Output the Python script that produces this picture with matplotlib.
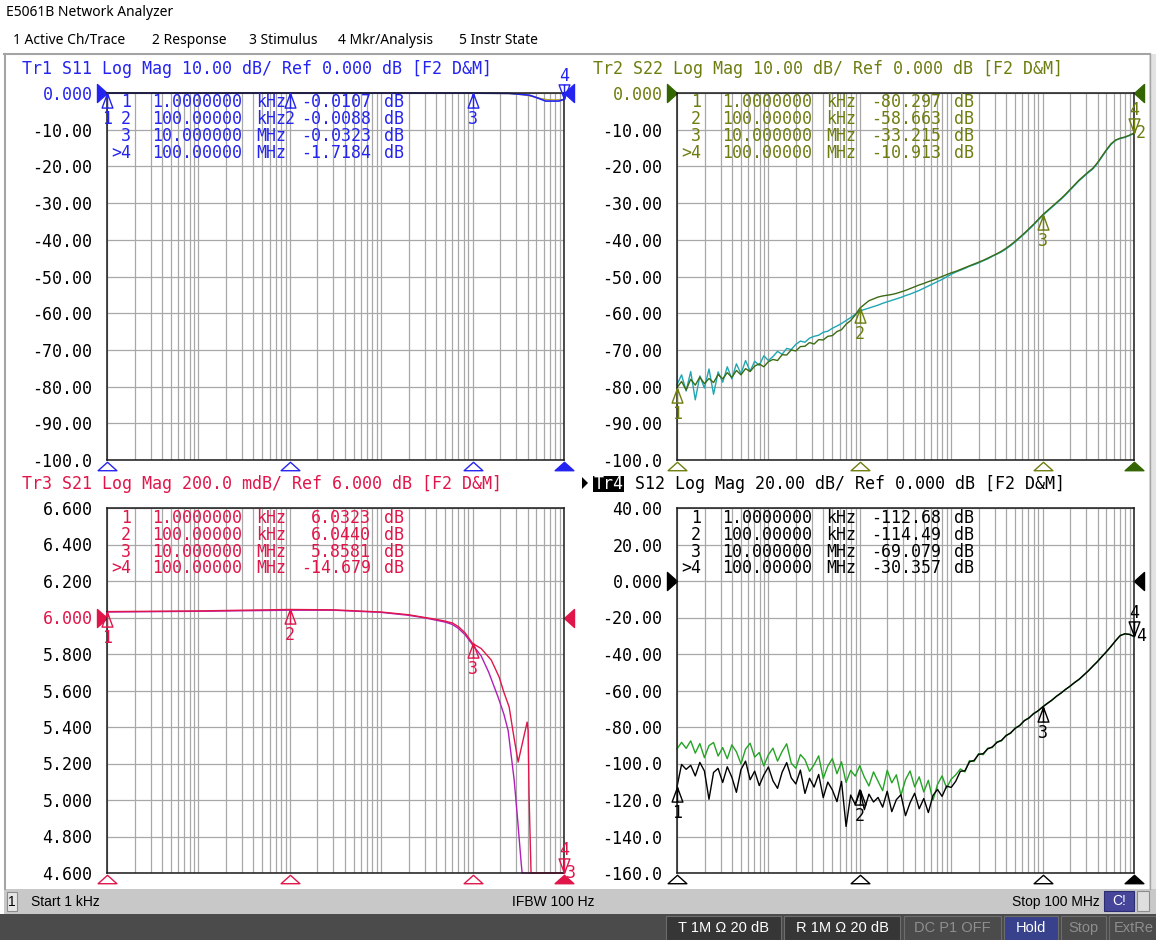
import numpy as np
import matplotlib.pyplot as plt
from matplotlib.path import Path
from matplotlib.patches import Rectangle, Polygon
from matplotlib.ticker import LogLocator, NullFormatter

# ---------------- stimulus / markers ----------------
sweep = np.geomspace(1e3, 1e8, 101)          # 101-point log sweep, 1 kHz .. 100 MHz
mkr_freq = [1e3, 1e5, 1e7, 1e8]
mkr_idx = ['1', '2', '3', '>4']
mkr_freq_txt = ['1.0000000', '100.00000', '10.000000', '100.00000']
mkr_unit = ['kHz', 'kHz', 'MHz', 'MHz']

# ---------------- Tr1  S11 ----------------
s11_freq = [1e3, 1e4, 1e5, 1e6, 1e7, 2.5e7, 3.3e7, 4.2e7, 5.2e7, 6.3e7, 8.8e7, 1e8]
s11_data = [-0.0107, -0.012, -0.0088, -0.015, -0.0323, -0.1, -0.35, -0.6, -1.4, -2.2, -2.2, -1.7184]
s11_mem_freq = [1e3, 1e7, 2.5e7, 3.5e7, 4.5e7, 5.5e7, 6.5e7, 8e7, 1e8]
s11_mem = [-0.01, -0.03, -0.15, -0.45, -0.9, -1.5, -1.8, -1.9, -1.8]
s11_mkr = [-0.0107, -0.0088, -0.0323, -1.7184]
s11_ticks = [0, -10, -20, -30, -40, -50, -60, -70, -80, -90, -100]
s11_labels = ['0.000', '-10.00', '-20.00', '-30.00', '-40.00', '-50.00',
              '-60.00', '-70.00', '-80.00', '-90.00', '-100.0']

# ---------------- Tr2  S22 (on sweep) ----------------
s22_data = [-80.297, -78.6, -80.9, -78.0, -79.6, -77.4, -79.2, -77.8, -78.9, -76.7, -77.9,
            -76.2, -77.5, -75.6, -76.8, -75.1, -75.9, -74.4, -73.8, -74.6, -73.2,
            -72.6, -72.9, -71.3, -71.4, -70.0, -70.3, -69.1, -69.0, -68.0, -68.4,
            -67.2, -67.3, -66.3, -66.1, -65.0, -64.5, -63.0, -62.0, -60.5, -58.663,
            -57.6, -56.6, -56.1, -55.6, -55.3, -55.1, -54.9, -54.6, -54.2, -53.8,
            -53.3, -52.8, -52.3, -51.9, -51.4, -51.0, -50.5, -50.0, -49.5, -49.0,
            -48.6, -48.1, -47.6, -47.1, -46.6, -46.1, -45.6, -45.0, -44.4, -43.8,
            -43.1, -42.3, -41.4, -40.4, -39.3, -38.2, -37.0, -35.8, -34.5, -33.215,
            -32.1, -31.0, -29.9, -28.8, -27.6, -26.3, -25.0, -23.7, -22.6, -21.5,
            -20.5, -19.0, -17.2, -15.4, -13.8, -12.8, -12.3, -12.0, -11.5, -10.913]
s22_mem = [-79.5, -76.8, -81.2, -75.9, -83.6, -77.1, -80.4, -75.2, -82.1, -76.0, -78.8,
           -74.6, -77.9, -73.8, -76.5, -72.9, -75.8, -73.1, -74.2, -71.6, -72.9,
           -71.8, -70.4, -71.2, -69.6, -69.9, -68.5, -67.6, -67.9, -66.8, -66.3,
           -66.0, -65.2, -64.9, -64.1, -63.5, -62.8, -62.0, -61.2, -60.3, -59.4,
           -59.0, -58.6, -58.2, -57.8, -57.3, -56.9, -56.5, -56.1, -55.7, -55.2,
           -54.8, -54.3, -53.8, -53.2, -52.6, -52.0, -51.4, -50.8, -50.1, -49.4,
           -48.8, -48.3, -47.8, -47.2, -46.8, -46.3, -45.7, -45.2, -44.5, -43.9,
           -43.3, -42.5, -41.6, -40.6, -39.5, -38.4, -37.2, -36.0, -34.7, -33.4,
           -32.3, -31.2, -30.1, -29.0, -27.8, -26.5, -25.2, -23.9, -22.8, -21.7,
           -20.7, -19.2, -17.4, -15.6, -14.0, -12.9, -12.4, -12.1, -11.6, -11.0]
s22_mkr = [-80.297, -58.663, -33.215, -10.913]

# ---------------- Tr3  S21 ----------------
s21_freq = [1e3, 1e4, 1e5, 3e5, 1e6, 2e6, 3e6, 4e6, 5e6, 6e6, 7e6, 8.3e6, 1e7, 1.24e7,
            1.6e7, 1.95e7, 2.2e7, 2.51e7, 2.8e7, 3.15e7, 3.5e7, 3.95e7, 4.05e7, 4.15e7,
            4.36e7, 5e7, 7e7, 1e8]
s21_data = [6.0323, 6.036, 6.0440, 6.042, 6.030, 6.015, 6.000, 5.99, 5.98, 5.97, 5.95,
            5.915, 5.8581, 5.83, 5.767, 5.674, 5.59, 5.51, 5.36, 5.208, 5.31, 5.427,
            5.38, 5.02, 4.2, -3.0, -10.0, -14.679]
s21_mem_freq = [1e3, 1e4, 1e5, 3e5, 1e6, 2e6, 3e6, 4e6, 5e6, 6e6, 7e6, 8.3e6, 1e7,
                1.24e7, 1.5e7, 1.9e7, 2.2e7, 2.45e7, 2.85e7, 3.1e7, 3.4e7, 3.48e7,
                4.6e7, 1e8]
s21_mem = [6.030, 6.034, 6.040, 6.040, 6.028, 6.012, 5.998, 5.985, 5.975, 5.962, 5.94,
           5.905, 5.85, 5.79, 5.70, 5.564, 5.47, 5.38, 5.11, 4.90, 4.655, 4.4, -6.0, -17.0]
s21_mkr = [6.0323, 6.0440, 5.8581, -14.679]
s21_ticks = [6.6, 6.4, 6.2, 6.0, 5.8, 5.6, 5.4, 5.2, 5.0, 4.8, 4.6]
s21_labels = ['6.600', '6.400', '6.200', '6.000', '5.800', '5.600',
              '5.400', '5.200', '5.000', '4.800', '4.600']

# ---------------- Tr4  S12 (on sweep) ----------------
s12_data = [-112.68, -100.5, -103.2, -101.0, -106.8, -99.4, -104.1, -119.6, -104.9, -102.7, -110.4,
            -101.8, -107.5, -115.8, -103.3, -98.7, -108.9, -104.2, -112.1, -106.3, -101.9,
            -109.5, -113.6, -104.8, -99.5, -107.9, -111.2, -103.6, -116.4, -108.1, -112.9,
            -106.0, -118.7, -110.2, -114.5, -120.9, -109.8, -134.5, -117.3, -122.4, -114.49,
            -125.3, -116.8, -121.1, -118.6, -123.9, -115.2, -126.4, -119.8, -117.1, -128.6,
            -121.5, -116.3, -124.8, -119.2, -126.9, -117.6, -114.2, -118.0, -112.4, -113.1,
            -109.7, -104.3, -104.0, -99.1, -98.3, -95.0, -94.6, -92.0, -90.9, -88.5,
            -87.3, -84.8, -83.2, -80.8, -79.1, -76.6, -75.0, -72.8, -71.1, -69.079,
            -67.2, -65.3, -63.3, -61.4, -59.5, -57.6, -55.7, -53.8, -51.6, -49.2,
            -46.7, -44.1, -41.4, -38.6, -35.8, -32.6, -29.9, -28.9, -29.3, -30.357]
s12_mem = [-92.0, -88.4, -91.7, -87.6, -94.3, -89.1, -96.8, -90.2, -88.5, -95.9, -91.3,
           -97.4, -89.8, -93.6, -100.2, -92.1, -88.9, -96.5, -94.0, -101.3, -95.2,
           -91.6, -98.7, -93.4, -89.2, -99.8, -102.6, -95.1, -97.9, -104.3, -100.7,
           -95.8, -108.2, -101.4, -97.3, -105.6, -99.1, -110.4, -103.8, -106.9, -101.2,
           -107.5, -112.3, -104.6, -109.8, -114.9, -103.7, -110.6, -106.2, -117.4, -108.9,
           -104.1, -112.8, -107.3, -115.6, -109.2, -120.3, -111.5, -106.8, -113.4, -108.6,
           -106.2, -103.0, -104.6, -98.4, -98.9, -94.6, -95.2, -91.6, -91.3, -88.1,
           -87.6, -84.5, -83.5, -80.5, -79.3, -76.4, -75.2, -72.6, -71.3, -68.9,
           -67.0, -65.5, -63.1, -61.6, -59.3, -57.8, -55.5, -54.0, -51.4, -49.4,
           -46.5, -44.3, -41.2, -38.8, -35.6, -32.8, -29.7, -29.1, -29.1, -30.5]
s12_mkr = [-112.68, -114.49, -69.079, -30.357]
s12_ticks = [40, 20, 0, -20, -40, -60, -80, -100, -120, -140, -160]
s12_labels = ['40.00', '20.00', '0.000', '-20.00', '-40.00', '-60.00',
              '-80.00', '-100.0', '-120.0', '-140.0', '-160.0']

# ---------------- styling ----------------
MONO = 'DejaVu Sans Mono'
UI = 'Noto Sans'
FS = 12
C1, C1M = '#2424f0', '#b3a024'
C2, C2D, C2M, C2A = '#6f7d10', '#3d6b14', '#1fa6b2', '#336600'
C3, C3M = '#e0164a', '#b01fb8'
C4, C4M = '#000000', '#25a325'
GRID = '#a8a8a8'

W, H = 1156, 940
fig = plt.figure(figsize=(W / 100, H / 100), dpi=100)
fig.patch.set_facecolor('white')

# marker shapes (tip of each shape sits on the data point)
MK_UP = Path([(0, 0), (-0.37, -1), (0.37, -1), (0, 0), (0, 0), (0, -1)],
             [Path.MOVETO, Path.LINETO, Path.LINETO, Path.CLOSEPOLY, Path.MOVETO, Path.LINETO])
MK_DN = Path([(0, 0), (-0.37, 1), (0.37, 1), (0, 0), (0, 0), (0, 1)],
             [Path.MOVETO, Path.LINETO, Path.LINETO, Path.CLOSEPOLY, Path.MOVETO, Path.LINETO])
TRI = Path([(0, 0.45), (-1, -0.45), (1, -0.45), (0, 0.45)],
           [Path.MOVETO, Path.LINETO, Path.LINETO, Path.CLOSEPOLY])
ARR_R = Path([(0, 0), (-1, 0.9), (-1, -0.9), (0, 0)],
             [Path.MOVETO, Path.LINETO, Path.LINETO, Path.CLOSEPOLY])
ARR_L = Path([(0, 0), (1, 0.9), (1, -0.9), (0, 0)],
             [Path.MOVETO, Path.LINETO, Path.LINETO, Path.CLOSEPOLY])


def ptext(x, y, s, **kw):
    kw.setdefault('va', 'center')
    return fig.text(x / W, 1 - y / H, s, **kw)


# background chrome
bg = fig.add_axes([0, 0, 1, 1], zorder=-10)
bg.set_xlim(0, W)
bg.set_ylim(H, 0)
bg.axis('off')
bg.plot([4, 1150], [54, 54], color='#a4a4a4', lw=1.5)
bg.plot([4.5, 4.5], [54, 889], color='#a4a4a4', lw=1.5)
bg.add_patch(Rectangle((1149, 54), 7, 835, fc='#e2e2e2', ec='none'))
bg.plot([1149.5, 1149.5], [54, 889], color='#a4a4a4', lw=1)
bg.add_patch(Rectangle((4, 889), W - 4, 25, fc='#c8c8c8', ec='none'))
bg.add_patch(Rectangle((7, 892), 10, 19, fc='#e6e6e6', ec='#8c8c8c', lw=0.8))
bg.add_patch(Rectangle((1104, 891), 30, 20, fc='#45459a', ec='#2c2c70', lw=0.8))
bg.add_patch(Rectangle((1137, 891), 12, 20, fc='#dedede', ec='#8c8c8c', lw=0.8))
bg.add_patch(Rectangle((0, 914), W, 26, fc='#4b4b4b', ec='none'))
for x0, x1, fc in [(666, 781, '#363636'), (784, 900, '#363636'), (904, 1001, '#4b4b4b'),
                   (1004, 1058, '#37418c'), (1061, 1106, '#4b4b4b'), (1109, 1160, '#4b4b4b')]:
    bg.add_patch(Rectangle((x0, 916), x1 - x0, 24, fc=fc, ec='#6c6c6c', lw=0.8))
# Tr4 active header tag
bg.add_patch(Polygon([(582, 477), (588, 483), (582, 489)], closed=True, fc='black', ec='none'))
bg.add_patch(Rectangle((593, 476), 31, 16, fc='black', ec='none'))

ptext(6, 13, 'E5061B Network Analyzer', family=UI, fontsize=10)
for x, s in [(13, '1 Active Ch/Trace'), (152, '2 Response'), (249, '3 Stimulus'),
             (338, '4 Mkr/Analysis'), (459, '5 Instr State')]:
    ptext(x, 41, s, family=UI, fontsize=10)

ptext(12, 902, '1', family='Liberation Sans', fontsize=10, ha='center')
ptext(31, 902, 'Start 1 kHz', family='Liberation Sans', fontsize=10)
ptext(553, 902, 'IFBW 100 Hz', family='Liberation Sans', fontsize=10, ha='center')
ptext(1100, 902, 'Stop 100 MHz', family='Liberation Sans', fontsize=10, ha='right')
ptext(1119, 901, 'C!', family='Liberation Sans', fontsize=10, ha='center', color='white')
for xc, s, c in [(723, 'T 1M Ω 20 dB', 'white'), (842, 'R 1M Ω 20 dB', 'white'),
                 (952, 'DC P1 OFF', '#8e8e8e'), (1031, 'Hold', 'white'),
                 (1083, 'Stop', '#8e8e8e'), (1134, 'ExtRe', '#8e8e8e')]:
    ptext(xc, 928, s, family='Liberation Sans', fontsize=10.5, ha='center', color=c)


def panel(rect, ylim, ticks, labels, ref, col, acol):
    x0, y0, x1, y1 = rect
    ax = fig.add_axes([x0 / W, 1 - y1 / H, (x1 - x0) / W, (y1 - y0) / H])
    ax.set_xscale('log')
    ax.set_xlim(1e3, 1e8)
    ax.set_ylim(*ylim)
    ax.xaxis.set_major_locator(LogLocator(base=10, numticks=12))
    ax.xaxis.set_minor_locator(LogLocator(base=10, subs=np.arange(2, 10), numticks=100))
    ax.xaxis.set_minor_formatter(NullFormatter())
    ax.set_yticks(ticks)
    ax.set_yticklabels(labels, family=MONO, fontsize=FS)
    for t, lab in zip(ticks, ax.get_yticklabels()):
        if t == ref:
            lab.set_color(col)
    ax.tick_params(which='both', length=0)
    ax.tick_params(axis='x', which='both', labelbottom=False)
    ax.tick_params(axis='y', pad=10.5)
    ax.grid(True, which='both', color=GRID, lw=0.9)
    for s in ax.spines.values():
        s.set_color('#1a1a1a')
        s.set_linewidth(1.1)
    # reference level arrows
    ax.plot([0], [ref], transform=ax.get_yaxis_transform(), marker=ARR_R, ms=14.4,
            color=acol, mec=acol, clip_on=False, ls='none')
    ax.plot([1], [ref], transform=ax.get_yaxis_transform(), marker=ARR_L, ms=14.4,
            color=acol, mec=acol, clip_on=False, ls='none')
    # stimulus position of the markers below the grid
    yb = -6 / (y1 - y0)
    ax.plot(mkr_freq[:3], [yb] * 3, transform=ax.get_xaxis_transform(), marker=TRI, ms=13.5,
            mfc='white', mec=col, mew=1.0, ls='none', clip_on=False)
    ax.plot(mkr_freq[3:], [yb], transform=ax.get_xaxis_transform(), marker=TRI, ms=13.5,
            mfc=acol, mec=acol, mew=1.0, ls='none', clip_on=False)
    return ax


def markers(ax, vals, col, ylo, trace_no):
    shown = np.clip(vals, ylo, None)
    kw = dict(family=MONO, fontsize=FS, color=col, ha='center', va='center',
              textcoords='offset pixels', annotation_clip=False)
    for k in range(3):
        ax.plot(mkr_freq[k], shown[k], marker=MK_UP, ms=21, mfc='none', mec=col, mew=1.0,
                ls='none', clip_on=False, zorder=5)
        ax.annotate(str(k + 1), (mkr_freq[k], shown[k]), xytext=(0, -26), **kw)
    ax.plot(mkr_freq[3], shown[3], marker=MK_DN, ms=21, mfc='none', mec=col, mew=1.0,
            ls='none', clip_on=False, zorder=5)
    ax.annotate('4', (mkr_freq[3], shown[3]), xytext=(0, 23), **kw)
    if trace_no:
        kw.update(ha='left')
        ax.annotate(trace_no, (mkr_freq[3], shown[3]), xytext=(2, 0), **kw)


def table(x_idx, x_freq, y_rows, vals, col):
    for k, y in enumerate(y_rows):
        v = vals[k]
        dec = 4 if abs(v) < 10 else (3 if abs(v) < 100 else 2)
        ptext(x_idx, y, mkr_idx[k], family=MONO, fontsize=FS, color=col, ha='right')
        ptext(x_freq, y, mkr_freq_txt[k], family=MONO, fontsize=FS, color=col)
        ptext(x_freq + 104, y, mkr_unit[k], family=MONO, fontsize=FS, color=col)
        ptext(x_freq + 219, y, f'{v:.{dec}f}', family=MONO, fontsize=FS, color=col, ha='right')
        ptext(x_freq + 232, y, 'dB', family=MONO, fontsize=FS, color=col)


top_rows = [102, 119, 136, 153]
bot_rows = [518, 535, 552, 568]

# Tr1 S11
ax1 = panel((107, 93, 564, 460), (-100, 0), s11_ticks, s11_labels, 0, C1, C1)
ax1.plot(s11_mem_freq, s11_mem, color=C1M, lw=1.0, clip_on=False)
ax1.plot(s11_freq, s11_data, color=C1, lw=1.2, clip_on=False)
markers(ax1, s11_mkr, C1, -100, None)
ptext(22, 69, 'Tr1 S11 Log Mag 10.00 dB/ Ref 0.000 dB [F2 D&M]', family=MONO, fontsize=FS, color=C1)
table(131, 152, top_rows, s11_mkr, C1)

# Tr2 S22
ax2 = panel((677, 93, 1134, 460), (-100, 0), s11_ticks, s11_labels, 0, C2, C2A)
ax2.plot(sweep, s22_mem, color=C2M, lw=1.0, clip_on=False)
ax2.plot(sweep, s22_data, color=C2D, lw=1.0, clip_on=False)
markers(ax2, s22_mkr, C2, -100, '2')
ptext(593, 69, 'Tr2 S22 Log Mag 10.00 dB/ Ref 0.000 dB [F2 D&M]', family=MONO, fontsize=FS, color=C2)
table(701, 722, top_rows, s22_mkr, C2)

# Tr3 S21 (values below the grid are drawn on the bottom line)
ax3 = panel((107, 508, 564, 873), (4.6, 6.6), s21_ticks, s21_labels, 6.0, C3, C3)
ax3.plot(s21_mem_freq, np.clip(s21_mem, 4.6, 6.6), color=C3M, lw=1.0, clip_on=False)
ax3.plot(s21_freq, np.clip(s21_data, 4.6, 6.6), color=C3, lw=1.0, clip_on=False)
markers(ax3, s21_mkr, C3, 4.6, '3')
ptext(22, 484, 'Tr3 S21 Log Mag 200.0 mdB/ Ref 6.000 dB [F2 D&M]', family=MONO, fontsize=FS, color=C3)
table(131, 152, bot_rows, s21_mkr, C3)

# Tr4 S12
ax4 = panel((677, 508, 1134, 873), (-160, 40), s12_ticks, s12_labels, 0, C4, C4)
ax4.plot(sweep, s12_mem, color=C4M, lw=1.0, clip_on=False)
ax4.plot(sweep, s12_data, color=C4, lw=1.0, clip_on=False)
markers(ax4, s12_mkr, C4, -160, '4')
ptext(594, 484, 'Tr4', family=MONO, fontsize=FS, color='white')
ptext(635, 484, 'S12 Log Mag 20.00 dB/ Ref 0.000 dB [F2 D&M]', family=MONO, fontsize=FS, color=C4)
table(701, 722, bot_rows, s12_mkr, C4)

fig.savefig('out.png', dpi=100)
